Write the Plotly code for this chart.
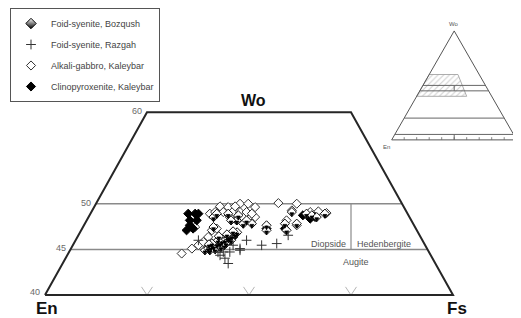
import plotly.graph_objects as go

# ---------------- data ----------------
# position along the En -> Fs join (0 = En, 100 = Fs) and Wo (%)
bozqush_fs = [39.2, 40.0, 40.7, 41.4, 42.2, 42.9, 43.4, 44.1, 44.9, 45.3, 45.8, 46.6, 47.1,
              40.9, 42.4, 41.7, 43.1, 44.4, 45.6, 40.2, 46.1, 44.6, 42.6, 40.4, 43.9,
              41.3, 41.3, 47.0, 48.6, 50.7, 54.3, 54.3, 58.8, 59.2, 61.7, 60.5, 64.1,
              65.4, 66.6, 68.6, 47.4, 49.4, 42.1, 44.9, 45.6]
bozqush_wo = [44.91, 45.13, 45.24, 45.35, 45.56, 45.67, 45.89, 46.0, 46.22, 46.33, 46.44, 46.65, 46.87,
              45.67, 46.0, 45.02, 45.24, 45.67, 46.0, 45.56, 46.98, 46.65, 46.44, 44.91, 45.46,
              48.54, 47.45, 48.18, 47.82, 47.82, 47.64, 47.09, 47.82, 47.09, 47.82, 49.09, 48.91,
              48.73, 48.54, 48.91, 48.73, 48.18, 48.91, 48.91, 48.18]

razgah_fs = [49.4, 53.1, 56.8, 59.6, 47.8, 44.9, 42.9, 43.7, 45.3, 44.1, 37.6, 47.8, 42.4, 46.1]
razgah_wo = [46.0, 45.46, 45.64, 46.55, 44.91, 43.46, 44.36, 44.72, 44.72, 44.04, 46.0, 45.09, 44.69, 45.46]

gabbro_fs = [33.5, 36.0, 37.6, 38.8, 40.0, 40.9, 40.4, 41.7, 42.9, 44.9, 47.8, 49.8, 51.5, 47.8,
             49.4, 57.2, 61.7, 60.5, 69.0, 50.2, 51.5, 45.3, 43.7, 36.8, 42.1, 65.0, 59.2, 46.2,
             44.5, 67.0, 61.7, 46.6, 50.7]
gabbro_wo = [44.55, 45.09, 45.46, 45.82, 46.36, 47.09, 48.91, 49.09, 49.71, 49.63, 50.0, 50.0, 49.63, 49.09,
             49.09, 50.07, 50.0, 49.27, 48.98, 48.37, 48.54, 48.54, 49.09, 47.45, 47.28, 49.09, 48.18, 46.36,
             45.82, 49.16, 47.64, 49.71, 48.91]

clino_fs = [35.1, 36.8, 35.5, 37.2, 34.7, 36.3, 35.5, 47.0, 54.3, 58.8, 66.2, 63.2, 65.0, 37.6]
clino_wo = [48.91, 48.91, 48.18, 48.18, 47.09, 47.28, 47.64, 48.18, 47.28, 47.28, 48.54, 48.73, 48.37, 48.91]

series_names = ["Foid-syenite, Bozqush", "Foid-syenite, Razgah",
                "Alkali-gabbro, Kaleybar", "Clinopyroxenite, Kaleybar"]

# diagram frame
wo_bottom, wo_top = 40, 60
wo_lines = [45, 50]
wo_tick_values = [40, 45, 50, 60]
wo_tick_labels = ["40", "45", "50", "60"]
fs_ticks = [25, 50, 75]
divider_fs = 75
field_names = ["Diopside", "Hedenbergite", "Augite"]
field_fs = [69.4, 83.2, 76.2]
field_wo = [45.64, 45.64, 43.6]

# inset (full pyroxene triangle)
inset_lines_wo = [50, 45, 20, 5]
inset_ticks_fs = [10, 20, 30, 40, 50, 60, 70, 80, 90]
inset_hatch_fs = [0, 40, 23, 0]
inset_hatch_wo = [40, 40, 60, 60]

FONT = "Liberation Sans, Arial, sans-serif"
SLOPE = 25 / 20  # skew of the side edges (position units per Wo unit)

# ---- layout calibration (window pixels) ----
W, H = 521, 318
PAGE = 8                     # default body margin of the page
EN_PX, PX_PER_FS = 45, 4.08  # main diagram: En corner x, px per unit
BASE_PY, PX_PER_WO = 295, 9.165
IN_X0, IN_PXU = 391.7, 1.25  # inset triangle: En corner x, px per unit
IN_Y0, IN_PYU = 139.3, 1.093


def left_edge(w):
    return (w - wo_bottom) * SLOPE


def right_edge(w):
    return 100 - (w - wo_bottom) * SLOPE


fig = go.Figure()


def line(x, y, color, width, xa="x", ya="y"):
    fig.add_trace(go.Scatter(x=x, y=y, mode="lines", line=dict(color=color, width=width),
                             hoverinfo="skip", showlegend=False, xaxis=xa, yaxis=ya))


# inner horizontal lines
for w in wo_lines:
    line([left_edge(w), right_edge(w)], [w, w], "#8a8a8a", 1.5)
line([divider_fs, divider_fs], [wo_lines[0], wo_lines[1]], "#8a8a8a", 1.2)

# V ticks on base
vx, vy = [], []
for t in fs_ticks:
    vx += [t - 1.35, t, t + 1.35, None]
    vy += [wo_bottom + 0.9, wo_bottom, wo_bottom + 0.9, None]
line(vx, vy, "#b5b5b5", 1)

# outer trapezoid
line([left_edge(wo_bottom), right_edge(wo_bottom), right_edge(wo_top), left_edge(wo_top), left_edge(wo_bottom)],
     [wo_bottom, wo_bottom, wo_top, wo_top, wo_bottom], "#262626", 2)

# ---------------- data traces ----------------
fig.add_trace(go.Scatter(x=gabbro_fs, y=gabbro_wo, mode="markers", name=series_names[2],
                         legendgroup="g3", legendrank=3,
                         marker=dict(symbol="diamond", size=7, color="white",
                                     line=dict(color="#333333", width=1))))
fig.add_trace(go.Scatter(x=clino_fs, y=clino_wo, mode="markers", name=series_names[3],
                         legendgroup="g4", legendrank=4,
                         marker=dict(symbol="diamond", size=7, color="black",
                                     line=dict(color="black", width=1))))
# Bozqush: open diamond + black lower half
fig.add_trace(go.Scatter(x=bozqush_fs, y=bozqush_wo, mode="markers", name=series_names[0],
                         legendgroup="g1", showlegend=False,
                         marker=dict(symbol="diamond", size=7, color="white",
                                     line=dict(color="#111111", width=1))))
fig.add_trace(go.Scatter(x=bozqush_fs, y=bozqush_wo, mode="markers", name=series_names[0],
                         legendgroup="g1", showlegend=False,
                         marker=dict(symbol="arrow-down", size=3.8, standoff=4.55, color="black",
                                     line=dict(color="black", width=0.8))))
# legend entry for Bozqush (half filled look)
fig.add_trace(go.Scatter(x=[None], y=[None], mode="markers", name=series_names[0],
                         legendgroup="g1", legendrank=1,
                         marker=dict(symbol="diamond", size=8, color="white",
                                     gradient=dict(type="vertical", color="black"),
                                     line=dict(color="black", width=1))))
fig.add_trace(go.Scatter(x=razgah_fs, y=razgah_wo, mode="markers", name=series_names[1],
                         legendgroup="g2", legendrank=2,
                         marker=dict(symbol="cross-thin-open", size=7, color="#333333",
                                     line=dict(color="#333333", width=1))))

# ---------------- inset ----------------
def tx(fs, wo):
    return [f + w / 2 for f, w in zip(fs, wo)]


hx = inset_hatch_fs + [inset_hatch_fs[0]]
hy = inset_hatch_wo + [inset_hatch_wo[0]]
fig.add_trace(go.Scatter(x=tx(hx, hy), y=hy, mode="lines", fill="toself", fillcolor="white",
                         fillpattern=dict(shape="/", fgcolor="#9a9a9a", bgcolor="white", size=4, solidity=0.25),
                         line=dict(color="#999999", width=0.8), hoverinfo="skip", showlegend=False,
                         xaxis="x2", yaxis="y2"))
line([0, 100, 50, 0], [0, 0, 100, 0], "#555555", 1, "x2", "y2")
for w in inset_lines_wo:
    line([w / 2, 100 - w / 2], [w, w], "#666666", 1, "x2", "y2")
line([50, 50, None, 50, 50], [45, 50, None, 0, 5], "#666666", 1, "x2", "y2")
tkx, tky = [], []
for t in inset_ticks_fs:
    tkx += [t, t, None]
    tky += [0, 2.5, None]
line(tkx, tky, "#666666", 0.8, "x2", "y2")

# ---------------- annotations ----------------
ann = []
for v, lab in zip(wo_tick_values, wo_tick_labels):
    ann.append(dict(x=left_edge(v), y=v, text=lab, xanchor="right", yanchor="middle", xshift=-3,
                    yshift=3 if v == wo_bottom else 1,
                    showarrow=False, font=dict(family=FONT, size=9, color="#6a6a6a")))
for name, f, w in zip(field_names, field_fs, field_wo):
    ann.append(dict(x=f, y=w, text=name, showarrow=False,
                    font=dict(family=FONT, size=9, color="#555555")))
ann.append(dict(x=51.0, y=61.3, text="<b>Wo</b>", showarrow=False,
                font=dict(family=FONT, size=16, color="#111111")))
ann.append(dict(x=0.5, y=38.5, text="<b>En</b>", showarrow=False,
                font=dict(family=FONT, size=17, color="#111111")))
ann.append(dict(x=101.1, y=38.5, text="<b>Fs</b>", showarrow=False,
                font=dict(family=FONT, size=17, color="#111111")))
ann.append(dict(x=50, y=106.5, xref="x2", yref="y2", text="Wo", showarrow=False,
                font=dict(family=FONT, size=6, color="#555555")))
ann.append(dict(x=-4, y=-6.5, xref="x2", yref="y2", text="En", showarrow=False,
                font=dict(family=FONT, size=6, color="#555555")))
ann.append(dict(x=99.5, y=-6.5, xref="x2", yref="y2", text="Fs", showarrow=False,
                font=dict(family=FONT, size=6, color="#555555")))

# axis ranges so the figure (offset by the page margin) lands on the reference pixels
x_range = [(PAGE - EN_PX) / PX_PER_FS, (W + PAGE - EN_PX) / PX_PER_FS]
y_range = [wo_bottom - (H + PAGE - BASE_PY) / PX_PER_WO, wo_bottom + (BASE_PY - PAGE) / PX_PER_WO]
x2_range = [-5, 103.3]
y2_range = [-10, 110]
x2_dom = [(IN_X0 + x2_range[0] * IN_PXU - PAGE) / W, (IN_X0 + x2_range[1] * IN_PXU - PAGE) / W]
y2_dom = [1 - (IN_Y0 - y2_range[0] * IN_PYU - PAGE) / H, 1 - (IN_Y0 - y2_range[1] * IN_PYU - PAGE) / H]

fig.update_layout(
    width=W, height=H, autosize=False,
    margin=dict(l=0, r=0, t=0, b=0),
    paper_bgcolor="white", plot_bgcolor="rgba(0,0,0,0)",
    xaxis=dict(range=x_range, domain=[0, 1], visible=False, fixedrange=True),
    yaxis=dict(range=y_range, domain=[0, 1], visible=False, fixedrange=True),
    xaxis2=dict(range=x2_range, domain=x2_dom, visible=False, anchor="y2"),
    yaxis2=dict(range=y2_range, domain=y2_dom, visible=False, anchor="x2"),
    annotations=ann,
    showlegend=True,
    legend=dict(x=(10 - PAGE) / W, y=1 - (7 - PAGE) / H, xanchor="left", yanchor="top",
                bgcolor="white", bordercolor="#555555", borderwidth=1,
                font=dict(family=FONT, size=9, color="#444444"),
                traceorder="grouped", tracegroupgap=2, itemwidth=30),
)

fig.write_html("out.html")
